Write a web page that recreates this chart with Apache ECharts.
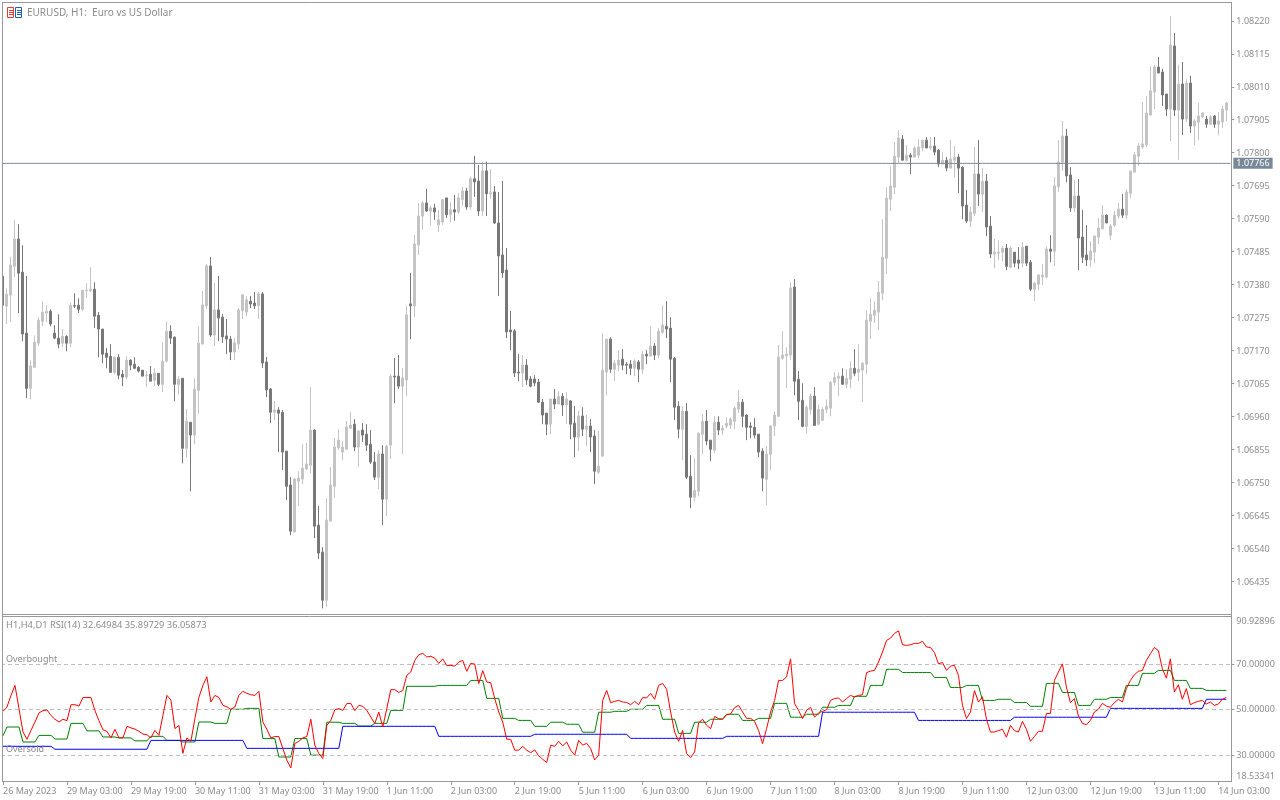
<!DOCTYPE html>
<html>
<head>
<meta charset="utf-8">
<script src="https://cdn.jsdelivr.net/npm/echarts@6/dist/echarts.min.js"></script>
<style>html,body{margin:0;padding:0;background:#fff}#c{width:1280px;height:800px}</style>
</head>
<body>
<div id="c"></div>
<script>
// Prices in points: price = 1 + points / 100000
const openPts = [
7407,7311,7346,7438,7525,7419,7225,7049,7116,7193,
7263,7289,7295,7225,7209,7193,7215,7193,7313,7314,
7301,7360,7359,7365,7282,7238,7161,7151,7100,7148,
7094,7085,7139,7126,7116,7107,7089,7094,7075,7097,
7062,7136,7231,7212,7062,7081,6858,6941,6900,7043,
7190,7312,7439,7219,7299,7276,7216,7206,7165,7190,
7296,7292,7327,7321,7312,7350,7133,7047,6973,6980,
6973,6849,6741,6591,6753,6760,6792,6804,6916,6613,
6527,6374,6626,6737,6859,6846,6855,6922,6935,6862,
6916,6903,6871,6814,6766,6840,6696,6868,7088,7088,
7056,7076,7318,7312,7506,7598,7640,7614,7624,7570,
7579,7656,7602,7618,7611,7650,7678,7627,7717,7710,
7614,7742,7669,7675,7576,7474,7426,7235,7232,7101,
7098,7123,7079,7079,7069,7005,6970,6935,7015,6999,
7024,6996,7009,6938,6894,6961,6919,6929,6897,6782,
6833,7101,7206,7110,7123,7142,7126,7126,7113,7133,
7110,7158,7152,7184,7155,7228,7247,7241,7145,6992,
6919,6976,6769,6702,6721,6903,6944,6884,6852,6941,
6916,6929,6932,6944,6983,7005,6964,6929,6925,6903,
6849,6759,6839,6929,6960,7145,7152,7155,7372,7078,
7011,6928,6982,7024,6935,6947,6982,6986,7068,7081,
7088,7062,7078,7113,7100,7107,7126,7263,7282,7292,
7352,7464,7652,7690,7786,7843,7776,7792,7786,7792,
7815,7840,7815,7821,7808,7764,7776,7751,7776,7786,
7754,7633,7582,7607,7732,7668,7709,7566,7477,7480,
7483,7496,7435,7483,7458,7448,7502,7451,7365,7381,
7404,7404,7493,7486,7691,7770,7853,7729,7624,7662,
7531,7474,7458,7483,7531,7557,7601,7537,7569,7598,
7620,7601,7671,7738,7789,7818,7825,7920,7993,8073,
8057,7987,7939,8140,7936,8019,7907,8022,7885,7898,
7914,7907,7891,7917,7891,7898,7936];
const closePts = [
7314,7349,7442,7525,7416,7222,7049,7120,7196,7266,
7292,7295,7254,7209,7190,7215,7193,7314,7311,7301,
7362,7362,7365,7279,7238,7158,7148,7100,7148,7091,
7085,7139,7123,7113,7104,7088,7091,7072,7097,7062,
7136,7231,7209,7062,7078,6858,6944,6900,7046,7193,
7315,7439,7219,7299,7273,7213,7206,7165,7194,7299,
7347,7331,7318,7312,7350,7130,7044,6973,6980,6970,
6846,6737,6594,6760,6763,6795,6808,6916,6610,6524,
6374,6629,6741,6862,6884,6862,6926,6932,6862,6913,
6900,6868,6814,6766,6840,6696,6865,7088,7085,7056,
7082,7283,7312,7509,7598,7640,7614,7624,7611,7586,
7650,7602,7618,7611,7656,7678,7627,7717,7707,7614,
7742,7669,7672,7576,7471,7417,7229,7229,7098,7098,
7123,7076,7056,7066,7005,6964,6935,7015,6999,7024,
6996,7015,6935,6894,6961,6919,6929,6894,6785,6801,
7107,7206,7110,7129,7139,7123,7123,7113,7136,7110,
7158,7152,7184,7155,7231,7251,7238,7142,6989,6919,
6976,6766,6702,6724,6906,6944,6881,6855,6941,6916,
6922,6938,6951,6986,7005,6960,6925,6925,6900,6846,
6763,6839,6929,6964,7149,7155,7158,7369,7072,7008,
6928,6989,7024,6931,6982,6982,6992,7068,7084,7088,
7062,7081,7113,7097,7110,7129,7266,7285,7298,7355,
7467,7655,7694,7789,7847,7776,7792,7786,7815,7818,
7840,7815,7821,7802,7764,7776,7751,7780,7786,7751,
7630,7582,7611,7732,7668,7709,7563,7477,7483,7483,
7496,7438,7496,7448,7448,7499,7448,7365,7384,7410,
7410,7493,7486,7694,7770,7853,7726,7624,7662,7528,
7467,7458,7486,7534,7560,7601,7576,7566,7601,7620,
7601,7675,7742,7793,7821,7828,7926,7997,8073,8054,
7984,7939,8143,7936,8019,7907,8022,7885,7901,7917,
7926,7891,7914,7891,7901,7939,7958];
const lowPts = [
7314,7254,7260,7404,7289,7199,7018,7014,7116,7183,
7247,7260,7247,7206,7177,7180,7167,7180,7305,7289,
7295,7336,7356,7241,7148,7129,7113,7100,7094,7078,
7056,7078,7107,7110,7100,7088,7053,7072,7056,7056,
7037,7132,7190,7008,7030,6810,6829,6721,6871,6967,
7190,7302,7213,7184,7200,7194,7158,7139,7139,7174,
7270,7280,7305,7302,7270,7114,7021,6938,6948,6846,
6789,6693,6581,6591,6674,6744,6789,6779,6572,6505,
6348,6352,6626,6702,6852,6820,6855,6919,6849,6798,
6878,6849,6808,6757,6728,6613,6642,6824,7002,7047,
6840,7024,7206,7276,7474,7554,7611,7567,7586,7547,
7570,7592,7579,7583,7605,7630,7618,7618,7659,7598,
7598,7598,7653,7573,7343,7401,7209,7171,7085,7072,
7053,7060,7053,7056,7002,6935,6900,6903,6983,6999,
6961,6935,6887,6830,6849,6897,6865,6846,6744,6776,
6833,7027,7098,7072,7104,7107,7094,7091,7088,7069,
7094,7126,7152,7139,7145,7222,7209,7069,6948,6890,
6820,6760,6667,6689,6705,6839,6868,6817,6842,6900,
6900,6922,6919,6919,6970,6925,6884,6890,6890,6830,
6721,6677,6788,6897,6960,7139,7050,7139,7027,6948,
6925,6906,6966,6931,6931,6947,6970,6960,7059,7024,
7062,7049,7049,7088,7072,7005,7094,7206,7257,7234,
7330,7413,7614,7668,7767,7776,7773,7732,7786,7783,
7805,7815,7808,7792,7754,7764,7741,7751,7722,7671,
7588,7576,7563,7598,7630,7611,7534,7464,7432,7458,
7454,7426,7432,7435,7429,7435,7439,7359,7327,7362,
7378,7400,7451,7439,7675,7742,7706,7611,7611,7426,
7448,7439,7435,7448,7509,7557,7576,7521,7563,7589,
7592,7589,7655,7738,7758,7812,7818,7920,7939,8054,
7949,7917,7837,7917,7777,7856,7898,7863,7824,7840,
7911,7879,7891,7879,7856,7879,7901];
const highPts = [
7407,7368,7468,7585,7572,7505,7407,7139,7218,7276,
7327,7314,7301,7250,7285,7238,7218,7321,7352,7336,
7362,7384,7435,7387,7292,7238,7177,7190,7151,7158,
7107,7151,7142,7148,7120,7107,7104,7120,7113,7097,
7196,7263,7250,7215,7088,7081,6983,6941,7081,7247,
7359,7445,7468,7385,7407,7286,7270,7216,7209,7305,
7347,7343,7343,7356,7356,7356,7149,7050,7009,6989,
6980,6849,6766,6763,6785,6871,6875,7053,6919,6674,
6543,6699,6798,6891,6919,6881,6945,6973,6951,6916,
6938,6935,6916,6846,6852,6868,6868,7095,7146,7155,
7114,7312,7417,7538,7640,7646,7685,7630,7637,7618,
7653,7656,7643,7665,7672,7691,7688,7723,7790,7761,
7771,7771,7748,7694,7675,7710,7496,7296,7238,7158,
7155,7142,7088,7091,7079,7015,6970,7015,7047,7040,
7034,7037,7012,6993,6977,6989,6964,6951,6916,6913,
7225,7206,7212,7139,7171,7174,7133,7139,7142,7139,
7168,7171,7247,7193,7241,7314,7327,7276,7149,7008,
6992,7002,6836,6826,6909,6967,6980,6884,6960,6960,
6932,6957,6957,6992,7043,7015,6967,6941,6954,6903,
6858,6865,6932,6976,7187,7231,7180,7388,7397,7104,
7065,6995,7033,7053,6998,6989,7014,7072,7100,7100,
7113,7110,7135,7174,7190,7132,7298,7336,7327,7391,
7588,7690,7757,7834,7872,7856,7824,7799,7821,7843,
7840,7850,7850,7850,7812,7802,7786,7840,7821,7796,
7757,7681,7627,7818,7840,7751,7732,7598,7525,7521,
7502,7509,7502,7483,7499,7515,7502,7458,7388,7413,
7445,7502,7537,7722,7840,7901,7876,7754,7713,7716,
7617,7569,7518,7537,7592,7633,7604,7573,7614,7640,
7668,7684,7742,7802,7831,7962,7981,8076,8080,8105,
8067,7987,8236,8182,8080,8089,8035,8045,7907,7958,
7930,7917,7920,7920,7930,7949,7962];

// RSI(14) on H1, one value per bar
const rsiH1 = [
49.2,51.1,56.2,60.6,50.4,40.1,36.9,40.8,44.5,48.5,
49.5,49.8,47.4,45.7,44.5,45.7,45.1,52.1,52.1,51.5,
55.3,55.3,55.3,49.5,45.1,41.1,40.4,37.5,41.3,37.5,
37.5,42.6,41.9,41.4,40.4,39.2,38.9,37.5,40.8,38.6,
47.4,56.2,54.2,41.6,43.0,30.7,37.5,36.0,46.0,55.3,
60.6,64.4,53.3,56.2,55.3,51.8,51.2,50.1,51.1,56.2,
58.0,57.1,56.5,56.2,58.0,44.5,41.3,37.5,38.1,38.1,
32.8,27.7,24.3,35.0,36.0,37.5,38.1,45.7,34.3,30.6,
28.4,43.0,45.2,49.9,50.4,49.6,52.6,52.7,49.5,51.8,
51.4,49.6,46.7,43.8,48.9,42.3,50.4,58.7,58.7,57.5,
58.4,65.0,66.5,71.6,74.1,74.7,73.1,73.4,72.6,70.3,
72.3,69.3,69.4,69.1,70.9,71.6,66.8,70.3,70.0,61.4,
67.1,62.1,61.8,54.8,48.9,44.5,36.9,36.9,32.1,32.1,
33.8,32.1,31.0,32.2,29.6,28.1,26.6,34.3,33.8,36.0,
34.0,35.7,32.1,29.9,36.4,34.3,35.1,32.8,27.8,29.9,
54.0,58.4,53.0,53.6,54.0,53.3,53.1,52.1,53.6,52.1,
55.3,55.1,57.1,54.5,60.6,61.5,58.9,48.9,40.1,36.0,
40.8,30.6,28.8,31.3,44.2,45.7,43.0,41.6,46.9,46.0,
45.7,47.7,48.0,50.8,51.8,48.9,46.1,46.1,44.8,40.8,
35.0,41.6,48.9,54.0,62.8,62.8,64.3,72.3,52.6,49.6,
46.0,49.6,51.0,46.6,48.5,49.2,49.9,54.0,54.8,55.1,
53.3,54.8,56.2,55.5,56.2,56.5,66.2,66.9,67.2,70.9,
75.3,80.4,81.4,83.5,84.6,78.5,78.2,78.5,79.1,79.1,
80.0,77.5,77.3,75.0,70.1,70.7,67.2,69.1,69.4,65.0,
51.8,46.0,48.9,58.3,53.3,55.6,45.7,40.1,40.1,40.7,
41.3,37.8,43.0,40.7,40.1,44.8,41.3,36.0,38.1,40.4,
40.4,48.2,48.3,62.8,66.5,70.1,59.9,53.0,54.8,47.1,
43.9,43.3,45.2,48.9,50.1,52.7,51.5,51.0,53.0,54.5,
53.3,59.2,62.8,65.3,66.8,67.2,71.6,74.5,77.3,75.9,
67.9,63.8,72.3,57.7,60.9,54.5,59.2,52.1,53.0,53.6,
54.0,52.4,53.3,51.8,52.4,54.5,55.3];

// RSI(14) on H4: first bar, then one level per four H1 bars
const rsiH4 = [
38.4,42.3,35.7,38.6,37.0,43.9,40.6,37.9,37.5,36.2,38.2,36.4,35.7,44.5,43.9,50.1,50.5,37.2,29.1,37.2,29.9,
44.4,43.9,42.7,43.9,49.6,60.2,60.2,60.6,60.6,62.8,54.9,46.1,45.2,42.6,44.4,43.5,40.0,48.8,49.2,50.1,
51.8,45.7,39.5,44.4,45.7,47.9,45.2,46.1,52.7,46.6,47.9,51.0,51.8,55.8,60.6,67.7,66.3,66.3,64.1,59.7,
60.6,54.0,54.5,53.1,51.4,61.5,57.5,51.8,54.5,55.3,60.6,65.9,67.2,62.8,59.3,58.4,58.4];

// RSI(14) on D1: one level per day, and the number of H1 bars it spans
const rsiD1 = [33.8,32.5,36.4,32.9,42.6,38.2,39.1,37.3,38.2,48.8,45.2,46.6,50.5,54.5];
const rsiD1Bars = [13,24,24,24,24,24,24,24,24,24,24,24,24,6];

const priceTicks = [1.06435,1.06540,1.06645,1.06750,1.06855,1.06960,1.07065,1.07170,1.07275,1.07380,1.07485,1.07590,1.07695,1.07800,1.07905,1.08010,1.08115,1.08220];
const currentPrice = 1.07766;
const rsiLabels = [18.53341,30,50,70,90.92896];
const rsiLevels = [30,50,70];
const timeLabels = ['26 May 2023','29 May 03:00','29 May 19:00','30 May 11:00','31 May 03:00','31 May 19:00','1 Jun 11:00','2 Jun 03:00','2 Jun 19:00','5 Jun 11:00','6 Jun 03:00','6 Jun 19:00','7 Jun 11:00','8 Jun 03:00','8 Jun 19:00','9 Jun 11:00','12 Jun 03:00','12 Jun 19:00','13 Jun 11:00','14 Jun 03:00'];
const labelEvery = 16;

const FONT = '"Noto Sans"', TXT = '#8c8c8c', FS = 9, FRAME = '#9a9a9a';
const toPrice = p => +(1 + p / 100000).toFixed(5);
const categories = openPts.map((_, i) => i).concat(['']);
const candles = openPts.map((o, i) => [toPrice(o), toPrice(closePts[i]), toPrice(lowPts[i]), toPrice(highPts[i])]);
const h4Line = rsiH1.map((_, i) => rsiH4[i === 0 ? 0 : 1 + Math.floor((i - 1) / 4)]);
const d1Line = rsiD1.flatMap((v, i) => Array(rsiD1Bars[i]).fill(v));
const priceLine = categories.map(() => currentPrice);

const hline = (x1, y1, x2, y2) => ({type:'line', z:100, silent:true, shape:{x1,y1,x2,y2}, style:{stroke:FRAME, lineWidth:1}});
const txt = (x, y, text, size) => ({type:'text', z:101, silent:true, x, y, style:{text, fill:TXT, font:(size||FS)+'px '+FONT, textVerticalAlign:'middle'}});
const iconBox = (x, c) => [
  {type:'rect', z:101, silent:true, shape:{x:x+.5, y:7.5, width:6, height:10}, style:{fill:'#fff', stroke:c, lineWidth:1}},
  ...[10.5,12.5,14.5].map(y => ({type:'line', z:101, silent:true, shape:{x1:x+2, y1:y, x2:x+6, y2:y}, style:{stroke:c, lineWidth:1}}))
];

const chart = echarts.init(document.getElementById('c'), null, {renderer:'canvas', width:1280, height:800});
chart.setOption({
  animation:false,
  backgroundColor:'#fff',
  grid:[
    {left:0.33, top:3, width:1232, height:611},
    {left:0.33, top:616.5, width:1232, height:164.5}
  ],
  xAxis:[
    {type:'category', gridIndex:0, data:categories, show:false, boundaryGap:true},
    {type:'category', gridIndex:1, data:categories, boundaryGap:true, position:'bottom',
      axisLine:{show:false},
      axisTick:{show:true, length:4, alignWithLabel:true, interval:i=>i%labelEvery===0, lineStyle:{color:FRAME}},
      axisLabel:{show:true, hideOverlap:false, interval:i=>i%labelEvery===0, align:'left', margin:6, color:TXT, fontFamily:FONT, fontSize:FS,
        formatter:(v,i)=>timeLabels[i/labelEvery]||''},
      splitLine:{show:false}}
  ],
  yAxis:[
    {type:'value', gridIndex:0, position:'right', offset:-1, min:1.06330, max:1.08277, scale:true,
      splitLine:{show:false}, axisLine:{show:false},
      axisTick:{show:true, length:3, customValues:priceTicks, lineStyle:{color:FRAME}},
      axisLabel:{show:true, customValues:priceTicks, margin:5, verticalAlign:'top', padding:[-3.5,0,0,0], color:TXT, fontFamily:FONT, fontSize:FS, formatter:v=>v.toFixed(5)}},
    {type:'value', gridIndex:1, position:'right', offset:-1, min:18.53341, max:90.92896,
      splitLine:{show:false}, axisLine:{show:false},
      axisTick:{show:true, length:3, customValues:rsiLevels, lineStyle:{color:FRAME}},
      axisLabel:{show:true, customValues:rsiLabels, margin:5, color:TXT, fontFamily:FONT, fontSize:FS, verticalAlignMaxLabel:'top', verticalAlignMinLabel:'bottom', formatter:v=>v.toFixed(5)}}
  ],
  series:[
    {type:'candlestick', xAxisIndex:0, yAxisIndex:0, data:candles, barWidth:2,
      itemStyle:{color:'#c4c4c4', color0:'#787878', borderColor:'#c4c4c4', borderColor0:'#787878', borderWidth:1}},
    {type:'line', xAxisIndex:0, yAxisIndex:0, data:priceLine, symbol:'none', z:3, silent:true,
      lineStyle:{color:'#778899', width:1},
      endLabel:{show:true, distance:3, padding:[1,3,1,3], color:'#fff', backgroundColor:'#778899', fontFamily:FONT, fontSize:FS, formatter:()=>currentPrice.toFixed(5)}},
    {type:'line', xAxisIndex:1, yAxisIndex:1, data:h4Line, symbol:'none', lineStyle:{color:'#008000', width:1}, z:3,
      markLine:{silent:true, symbol:'none', animation:false, label:{show:false},
        lineStyle:{color:'#c0c0c0', width:1, type:[4,3]},
        data:rsiLevels.map(v=>({yAxis:v}))}},
    {type:'line', xAxisIndex:1, yAxisIndex:1, data:d1Line, symbol:'none', lineStyle:{color:'#0000ff', width:1}, z:4},
    {type:'line', xAxisIndex:1, yAxisIndex:1, data:rsiH1, symbol:'none', lineStyle:{color:'#ff0000', width:1}, z:5}
  ],
  graphic:[
    {type:'rect', z:99, silent:true, shape:{x:0, y:0, width:2, height:781}, style:{fill:'#fff'}},
    hline(2,2.5,1232,2.5), hline(2.5,2,2.5,782), hline(1231.5,2,1231.5,782),
    hline(2,614.5,1232,614.5), hline(2,616.5,1232,616.5), hline(2,781.5,1232,781.5),
    ...iconBox(7,'#e8392f'), ...iconBox(15,'#1f5fb0'),
    txt(27,13,'EURUSD, H1:  Euro vs US Dollar',10),
    txt(6,625,'H1,H4,D1 RSI(14) 32.64984 35.89729 36.05873',9.3),
    txt(6,659,'Overbought'),
    txt(6,749,'Oversold')
  ]
});
</script>
</body>
</html>
